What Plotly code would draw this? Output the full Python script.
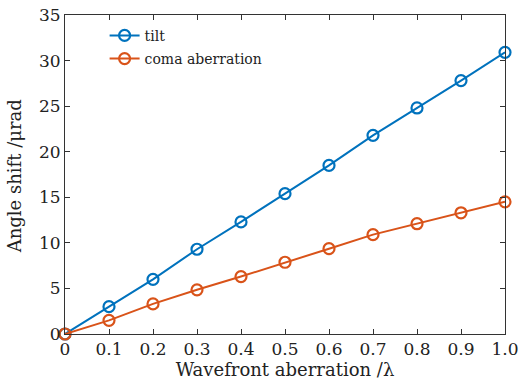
import plotly.graph_objects as go

# Wavefront aberration (in wavelengths) and resulting angle shift (µrad)
aberration = [0, 0.1, 0.2, 0.3, 0.4, 0.5, 0.6, 0.7, 0.8, 0.9, 1.0]
tilt_shift = [0, 3.0, 6.0, 9.3, 12.3, 15.4, 18.5, 21.8, 24.8, 27.8, 30.9]
coma_shift = [0, 1.5, 3.3, 4.85, 6.3, 7.87, 9.36, 10.9, 12.1, 13.3, 14.5]

x_tick_vals = [0, 0.1, 0.2, 0.3, 0.4, 0.5, 0.6, 0.7, 0.8, 0.9, 1.0]
x_tick_text = ["0", "0.1", "0.2", "0.3", "0.4", "0.5", "0.6", "0.7", "0.8", "0.9", "1.0"]
y_tick_vals = [0, 5, 10, 15, 20, 25, 30, 35]

BLUE = "#0072BD"
ORANGE = "#D95319"
FONT = "DejaVu Serif"
TEXT_COLOR = "#222222"
AXIS_COLOR = "#333333"

fig = go.Figure()
for name, ys, color in [("tilt", tilt_shift, BLUE), ("coma aberration", coma_shift, ORANGE)]:
    fig.add_trace(go.Scatter(
        x=aberration, y=ys, name=name, legendgroup=name, mode="lines+markers",
        line=dict(color=color, width=2),
        marker=dict(symbol="circle-open", size=11, color=color, line=dict(width=2.2, color=color)),
        cliponaxis=False,
    ))

axis_common = dict(
    showline=True, linecolor=AXIS_COLOR, linewidth=1, mirror="ticks",
    ticks="inside", ticklen=5, tickcolor=AXIS_COLOR, showgrid=False, zeroline=False,
    tickfont=dict(family=FONT, size=17, color=TEXT_COLOR),
    automargin=False,
)

fig.update_layout(
    width=519, height=382,
    margin=dict(l=65, r=14, t=15, b=48),
    paper_bgcolor="white", plot_bgcolor="white",
    font=dict(family=FONT, color=TEXT_COLOR),
    showlegend=True,
    legend=dict(x=0.09, y=0.985, xanchor="left", yanchor="top",
                bgcolor="rgba(0,0,0,0)", font=dict(family=FONT, size=14, color=TEXT_COLOR),
                tracegroupgap=2),
    xaxis=dict(range=[0, 1], tickvals=x_tick_vals, ticktext=x_tick_text,
               title=dict(text="Wavefront aberration /λ", font=dict(family=FONT, size=18), standoff=0),
               **axis_common),
    yaxis=dict(range=[0, 35], tickvals=y_tick_vals, **axis_common),
    annotations=[dict(
        text="Angle shift /μrad", textangle=-90, showarrow=False,
        xref="paper", yref="paper", x=-0.114, y=0.494, xanchor="center", yanchor="middle",
        font=dict(family=FONT, size=18, color=TEXT_COLOR),
    )],
)

fig.write_html("out.html")
